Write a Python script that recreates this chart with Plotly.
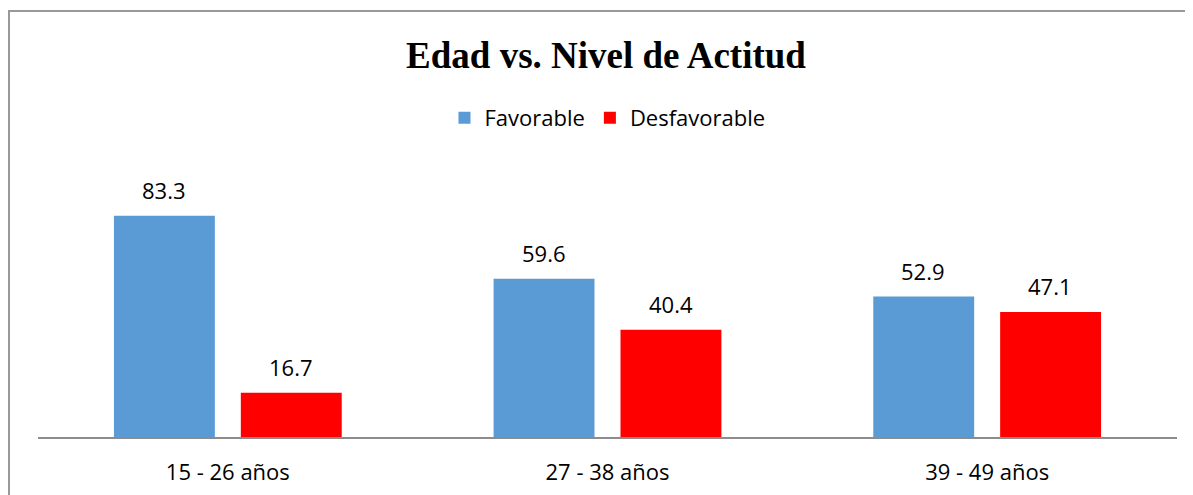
import plotly.graph_objects as go

categories = ["15 - 26 años", "27 - 38 años", "39 - 49 años"]
favorable = [83.3, 59.6, 52.9]
desfavorable = [16.7, 40.4, 47.1]
series_names = ["Favorable", "Desfavorable"]
title_text = "Edad vs. Nivel de Actitud"

FONT = "Open Sans"
colors = ["#5B9BD5", "#FF0000"]

fig = go.Figure()
for name, vals, col in zip(series_names, [favorable, desfavorable], colors):
    fig.add_trace(go.Bar(name=name, x=categories, y=vals, marker=dict(color=col, line=dict(width=0))))

annotations = []
for vals, shift in zip([favorable, desfavorable], [-64, 63]):
    for c, v in zip(categories, vals):
        annotations.append(dict(x=c, y=v, xref="x", yref="y", text=f"{v:.1f}", showarrow=False,
                                xshift=shift, yshift=26, yanchor="middle",
                                font=dict(family=FONT, size=22, color="#000")))

W, H = 1193, 495
L, R, T, B = 30, 24, 190, 66
ph = H - T - B
pw = W - L - R

fig.update_layout(
    width=W, height=H,
    margin=dict(l=L, r=R, t=T, b=B),
    paper_bgcolor="white", plot_bgcolor="white",
    barmode="group", bargap=0.3316, bargroupgap=0.2047,
    title=dict(text=f"<b>{title_text}</b>", x=(606 - 8 - L) / pw, xref="paper", xanchor="center",
               y=1 - 47 / H, yanchor="middle",
               yref="container", font=dict(family="Liberation Serif", size=37, color="#000")),
    legend=dict(orientation="h", x=0.5, xanchor="center", y=(H - B - 110) / ph, yanchor="middle",
                font=dict(family=FONT, size=22, color="#000"),
                traceorder="normal"),
    showlegend=True,
    xaxis=dict(showline=True, linecolor="#8c8c8c", linewidth=1.5, ticks="", showgrid=False,
               ticklabelstandoff=15,
               tickfont=dict(family=FONT, size=22, color="#000")),
    yaxis=dict(range=[0, 90], visible=False, showgrid=False, zeroline=False),
    annotations=annotations,
    shapes=[dict(type="rect", xref="paper", yref="paper",
                 x0=(1 - L) / pw, x1=1.2, y0=-1, y1=(H - B - 3) / ph,
                 line=dict(color="#999999", width=2), fillcolor="rgba(0,0,0,0)", layer="below")],
)

fig.write_html("out.html")
